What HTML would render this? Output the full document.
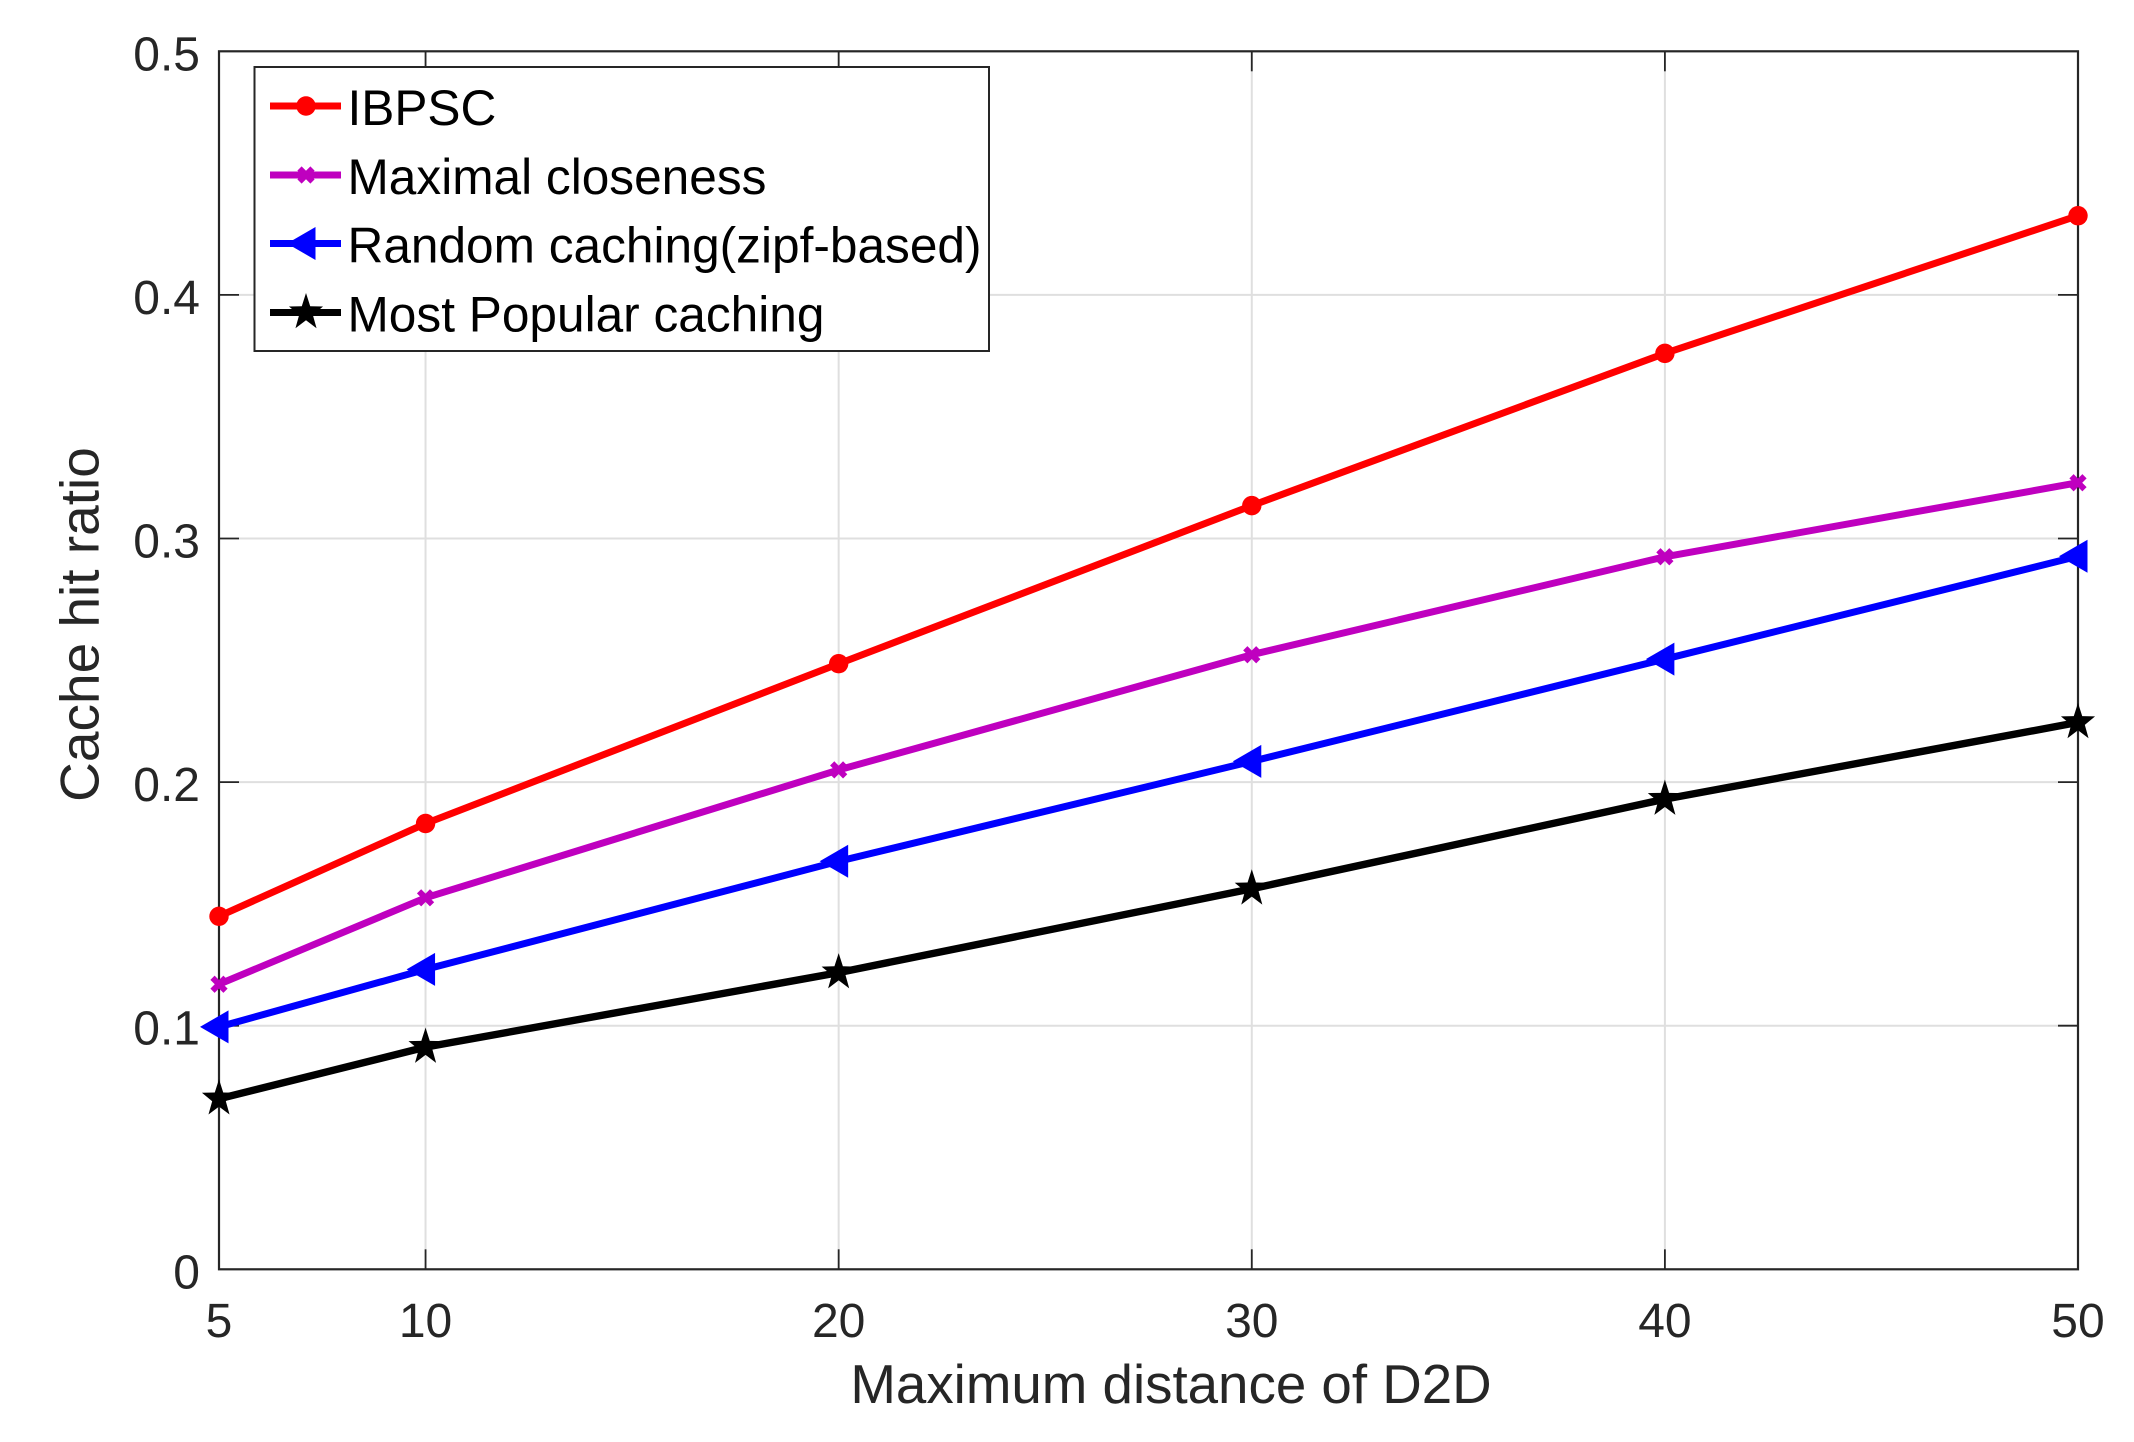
<!DOCTYPE html>
<html lang="en">
<head>
<meta charset="utf-8">
<title>Cache hit ratio vs maximum distance of D2D</title>
<style>
html,body{margin:0;padding:0;background:#fff;}
body{width:2134px;height:1442px;overflow:hidden;}
svg{display:block;font-family:"Liberation Sans",Arial,sans-serif;}
</style>
</head>
<body>
<svg id="chart" xmlns="http://www.w3.org/2000/svg" width="2134" height="1442" viewBox="0 0 2134 1442">
  <rect x="0" y="0" width="2134" height="1442" fill="#ffffff"/>
  <g id="grid"></g>
  <g id="axes"></g>
  <g id="series"></g>
  <text x="1171" y="1403" font-size="54.7" fill="#262626" text-anchor="middle">Maximum distance of D2D</text>
  <text transform="translate(98.5 624.5) rotate(-90)" font-size="55" fill="#262626" text-anchor="middle">Cache hit ratio</text>
  <g id="legend"></g>
</svg>
<script>
const xValues = [5, 10, 20, 30, 40, 50];
const ibpscValues = [0.1449, 0.1830, 0.2486, 0.3135, 0.3760, 0.4325];
const closenessValues = [0.1170, 0.1525, 0.2050, 0.2523, 0.2925, 0.3229];
const randomValues = [0.0995, 0.1231, 0.1675, 0.2085, 0.2505, 0.2927];
const popularValues = [0.0700, 0.0912, 0.1218, 0.1562, 0.1930, 0.2245];
const xTickValues = [5, 10, 20, 30, 40, 50];
const yTickValues = [0, 0.1, 0.2, 0.3, 0.4, 0.5];
const yTickLabels = ['0', '0.1', '0.2', '0.3', '0.4', '0.5'];
const seriesNames = ['IBPSC', 'Maximal closeness', 'Random caching(zipf-based)', 'Most Popular caching'];

const NS = 'http://www.w3.org/2000/svg';
const plotLeft = 219, plotRight = 2078, plotTop = 51.3, plotBottom = 1269.3;
const xDomainMin = 5, xDomainMax = 50, yDomainMin = 0, yDomainMax = 0.5;
function xScale(v) { return plotLeft + (v - xDomainMin) / (xDomainMax - xDomainMin) * (plotRight - plotLeft); }
function yScale(v) { return plotBottom - (v - yDomainMin) / (yDomainMax - yDomainMin) * (plotBottom - plotTop); }

function make(tag, attrs, parent) {
  const el = document.createElementNS(NS, tag);
  for (const k in attrs) el.setAttribute(k, attrs[k]);
  parent.appendChild(el);
  return el;
}

const gridG = document.getElementById('grid');
const axesG = document.getElementById('axes');
const seriesG = document.getElementById('series');
const legendG = document.getElementById('legend');
const axisColor = '#262626';
const gridColor = '#dfdfdf';
const tickLen = 20;

xTickValues.forEach(function (t) {
  const px = xScale(t);
  if (t !== xDomainMin && t !== xDomainMax) {
    const g = make('line', {x1: px, x2: px, y1: plotTop, y2: plotBottom, stroke: gridColor, 'stroke-width': 2}, gridG);
    
    
    const t1 = make('line', {x1: px, x2: px, y1: plotBottom, y2: plotBottom - tickLen, stroke: axisColor, 'stroke-width': 1.8}, axesG);
    
    
    const t2 = make('line', {x1: px, x2: px, y1: plotTop, y2: plotTop + tickLen, stroke: axisColor, 'stroke-width': 1.8}, axesG);
    
    
  }
  const lab = make('text', {x: px, y: 1337, 'font-size': 48, fill: axisColor, 'text-anchor': 'middle'}, axesG);
  
  
  lab.textContent = String(t);
});

yTickValues.forEach(function (t, i) {
  const py = yScale(t);
  if (t !== yDomainMin && t !== yDomainMax) {
    const g = make('line', {x1: plotLeft, x2: plotRight, y1: py, y2: py, stroke: gridColor, 'stroke-width': 2}, gridG);
    
    
    const t1 = make('line', {x1: plotLeft, x2: plotLeft + tickLen, y1: py, y2: py, stroke: axisColor, 'stroke-width': 1.8}, axesG);
    
    
    const t2 = make('line', {x1: plotRight, x2: plotRight - tickLen, y1: py, y2: py, stroke: axisColor, 'stroke-width': 1.8}, axesG);
    
    
  }
  const lab = make('text', {x: 200, y: py + 19, 'font-size': 48, fill: axisColor, 'text-anchor': 'end'}, axesG);
  
  
  lab.textContent = yTickLabels[i];
});

const frame = make('rect', {x: plotLeft, y: plotTop, width: plotRight - plotLeft, height: plotBottom - plotTop, fill: 'none', stroke: axisColor, 'stroke-width': 2.2}, axesG);



function drawCircle(parent, cx, cy, color) {
  const m = make('circle', {cx: cx, cy: cy, r: 9.7, fill: color}, parent);
  
  
}
function drawCross(parent, cx, cy, color) {
  const d = 'M' + (cx - 6.5) + ' ' + (cy - 6.5) + 'L' + (cx + 6.5) + ' ' + (cy + 6.5) + 'M' + (cx - 6.5) + ' ' + (cy + 6.5) + 'L' + (cx + 6.5) + ' ' + (cy - 6.5);
  const m = make('path', {d: d, fill: 'none', stroke: color, 'stroke-width': 6}, parent);
  
  
}
function drawTriangle(parent, cx, cy, color) {
  const pts = (cx - 19) + ',' + cy + ' ' + (cx + 9.5) + ',' + (cy - 16.5) + ' ' + (cx + 9.5) + ',' + (cy + 16.5);
  const m = make('polygon', {points: pts, fill: color}, parent);
  
  
}
function drawStar(parent, cx, cy, color) {
  const pts = [];
  for (let i = 0; i < 10; i++) {
    const r = i % 2 === 0 ? 19.5 : 7.8;
    const a = -Math.PI / 2 + i * Math.PI / 5;
    pts.push((cx + 0.92 * r * Math.cos(a)) + ',' + (cy + r * Math.sin(a)));
  }
  const m = make('polygon', {points: pts.join(' '), fill: color}, parent);
  
  
}

function drawSeries(values, color, width, marker, name) {
  const g = make('g', {}, seriesG);
  
  
  const pts = values.map(function (v, i) { return xScale(xValues[i]) + ',' + yScale(v); }).join(' ');
  const line = make('polyline', {points: pts, fill: 'none', stroke: color, 'stroke-width': width, 'stroke-linejoin': 'round'}, g);
  
  
  values.forEach(function (v, i) { marker(g, xScale(xValues[i]), yScale(v), color); });
}

drawSeries(ibpscValues, '#ff0000', 7, drawCircle, 'series-ibpsc');
drawSeries(closenessValues, '#bf00bf', 7, drawCross, 'series-maximal-closeness');
drawSeries(randomValues, '#0000ff', 7, drawTriangle, 'series-random-caching');
drawSeries(popularValues, '#000000', 7.4, drawStar, 'series-most-popular');

const legendBox = make('rect', {x: 254.5, y: 67, width: 734.5, height: 284, fill: '#ffffff', stroke: axisColor, 'stroke-width': 2}, legendG);



const legendColors = ['#ff0000', '#bf00bf', '#0000ff', '#000000'];
const legendMarkers = [drawCircle, drawCross, drawTriangle, drawStar];
const legendRowY = [106, 175, 243.5, 312.5];
seriesNames.forEach(function (label, i) {
  const ly = legendRowY[i];
  const g = make('g', {}, legendG);
  
  
  const line = make('line', {x1: 270, x2: 341, y1: ly, y2: ly, stroke: legendColors[i], 'stroke-width': 7}, g);
  
  
  legendMarkers[i](g, 306, ly, legendColors[i]);
  const txt = make('text', {x: 347.5, y: ly + 19, 'font-size': 49.6, fill: '#000000'}, g);
  
  
  txt.textContent = label;
});
</script>
</body>
</html>
